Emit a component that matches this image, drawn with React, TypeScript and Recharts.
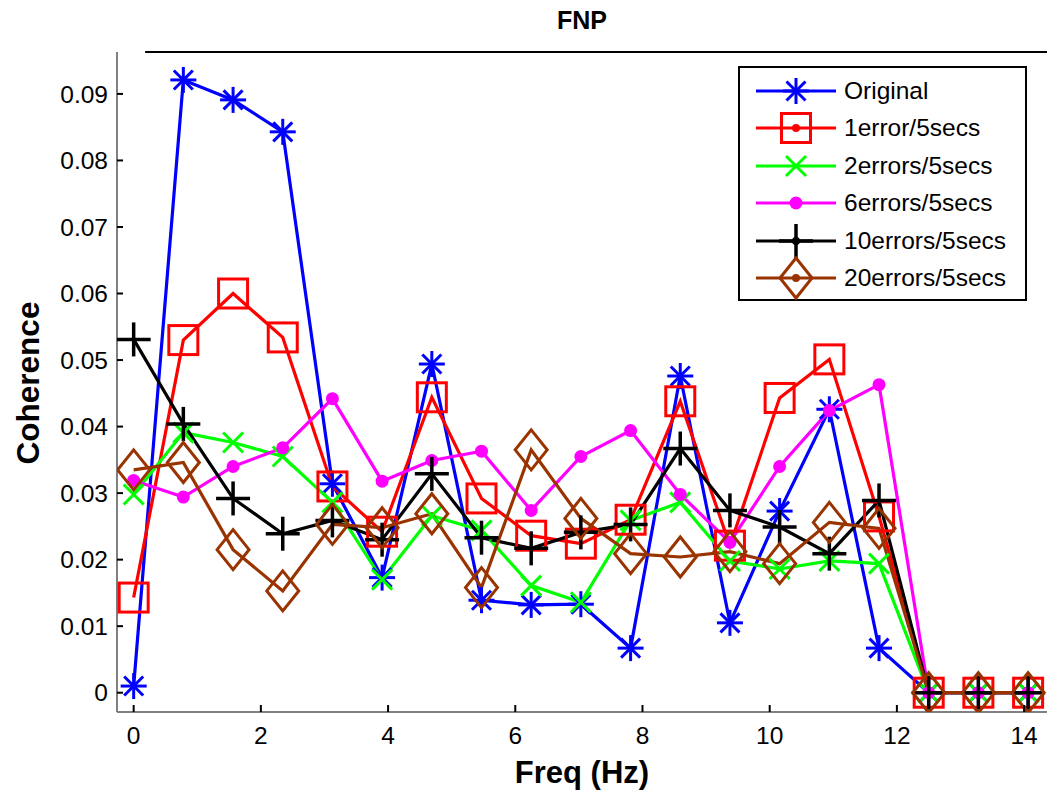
import React from 'react';
import { LineChart, Line, XAxis, YAxis, Legend, ReferenceLine } from 'recharts';

const FONT = '"Liberation Sans", Arial, Helvetica, sans-serif';

const freqs = [0, 0.781, 1.563, 2.344, 3.125, 3.906, 4.688, 5.469, 6.25, 7.031, 7.813, 8.594, 9.375, 10.156, 10.938, 11.719, 12.5, 13.281, 14.063];
const original = [0.001, 0.0921, 0.0891, 0.0843, 0.0314, 0.0173, 0.0494, 0.0139, 0.0132, 0.0133, 0.0067, 0.0476, 0.0105, 0.0273, 0.0426, 0.0067, 0, 0, 0];
const err1 = [0.0143, 0.053, 0.06, 0.0534, 0.031, 0.0242, 0.0444, 0.0292, 0.0236, 0.0224, 0.026, 0.0438, 0.0221, 0.0443, 0.0501, 0.0265, 0, 0, 0];
const err2 = [0.0298, 0.0391, 0.0376, 0.0355, 0.0286, 0.017, 0.0266, 0.0244, 0.0161, 0.0136, 0.0259, 0.0286, 0.0198, 0.0186, 0.0198, 0.0194, 0, 0, 0];
const err6 = [0.0319, 0.0294, 0.034, 0.0368, 0.0442, 0.0318, 0.0349, 0.0363, 0.0274, 0.0355, 0.0394, 0.0298, 0.0226, 0.034, 0.0424, 0.0463, 0, 0, 0];
const err10 = [0.0531, 0.0404, 0.0292, 0.0239, 0.0259, 0.023, 0.0329, 0.0233, 0.0217, 0.0241, 0.0253, 0.0367, 0.0274, 0.0249, 0.0209, 0.0289, 0, 0, 0];
const err20 = [0.0335, 0.0346, 0.0215, 0.0153, 0.0253, 0.0248, 0.0269, 0.0158, 0.0365, 0.0262, 0.0209, 0.0204, 0.0212, 0.0194, 0.0256, 0.0247, 0, 0, 0];

const seriesNames = ['Original', '1error/5secs', '2errors/5secs', '6errors/5secs', '10errors/5secs', '20errors/5secs'];
const seriesKeys = ['original', 'err1', 'err2', 'err6', 'err10', 'err20'];
const seriesValues = [original, err1, err2, err6, err10, err20];
const seriesColors = ['#0000ff', '#ff0000', '#00ff00', '#ff00ff', '#000000', '#993300'];
const seriesMarkers = ['star', 'square', 'x', 'dot', 'plus', 'diamond'];

const xTicks = [0, 2, 4, 6, 8, 10, 12, 14];
const yTicks = [0, 0.01, 0.02, 0.03, 0.04, 0.05, 0.06, 0.07, 0.08, 0.09];
const xDomain = [-0.262, 14.36];
const yDomain = [-0.0029, 0.0963];

const data = freqs.map((f, i) => {
  const row: any = { f };
  seriesKeys.forEach((k, j) => {
    row[k] = seriesValues[j][i];
  });
  return row;
});

function Marker({ type, cx, cy, color, legend }: any) {
  const sw = 3;
  if (type === 'star') {
    const a = 13, d = 9.5;
    return (
      <g stroke={color} strokeWidth={sw} fill="none">
        <line x1={cx - a} x2={cx + a} y1={cy} y2={cy} />
        <line x1={cx} x2={cx} y1={cy - a} y2={cy + a} />
        <line x1={cx - d} x2={cx + d} y1={cy - d} y2={cy + d} />
        <line x1={cx - d} x2={cx + d} y1={cy + d} y2={cy - d} />
      </g>
    );
  }
  if (type === 'square') {
    return (
      <g>
        <rect x={cx - 14.5} y={cy - 14.5} width={29} height={29} stroke={color} strokeWidth={sw} fill="none" />
        {legend ? <circle cx={cx} cy={cy} r={4} fill={color} /> : null}
      </g>
    );
  }
  if (type === 'x') {
    const d = 10;
    return (
      <g stroke={color} strokeWidth={sw}>
        <line x1={cx - d} x2={cx + d} y1={cy - d} y2={cy + d} />
        <line x1={cx - d} x2={cx + d} y1={cy + d} y2={cy - d} />
      </g>
    );
  }
  if (type === 'dot') {
    return <circle cx={cx} cy={cy} r={6.5} fill={color} />;
  }
  if (type === 'plus') {
    const a = 17;
    return (
      <g stroke={color} strokeWidth={3.5}>
        <line x1={cx - a} x2={cx + a} y1={cy} y2={cy} />
        <line x1={cx} x2={cx} y1={cy - a} y2={cy + a} />
        {legend ? <circle cx={cx} cy={cy} r={4} fill={color} stroke="none" /> : null}
      </g>
    );
  }
  const w = 16, h = 20;
  return (
    <g>
      <polygon
        points={`${cx},${cy - h} ${cx + w},${cy} ${cx},${cy + h} ${cx - w},${cy}`}
        stroke={color}
        strokeWidth={sw}
        fill="none"
      />
      {legend ? <circle cx={cx} cy={cy} r={4} fill={color} /> : null}
    </g>
  );
}

const YTick = (props: any) => {
  const { x, y, payload } = props;
  const label = String(Number(Number(payload.value).toFixed(2)));
  return (
    <g>
      <line x1={x + 9} x2={x + 15} y1={y} y2={y} stroke="#000" strokeWidth={2} />
      <text x={x} y={y} dy="0.355em" textAnchor="end" fontSize={24.5} fontFamily={FONT} fill="#000">
        {label}
      </text>
    </g>
  );
};

const XTick = (props: any) => {
  const { x, y, payload } = props;
  return (
    <g>
      <line x1={x} x2={x} y1={y - 15} y2={y - 22} stroke="#000" strokeWidth={2} />
      <text x={x} y={y} dy="0.71em" textAnchor="middle" fontSize={24.5} fontFamily={FONT} fill="#000">
        {String(payload.value)}
      </text>
    </g>
  );
};

const LegendBox = () => (
  <div
    style={{
      width: 285,
      height: 227,
      border: '2px solid #000',
      background: '#fff',
      boxSizing: 'content-box',
      paddingTop: 4,
    }}
  >
    {seriesNames.map((name, i) => (
      <div key={name} style={{ display: 'flex', alignItems: 'center', height: 37.5 }}>
        <svg width={104} height={44} style={{ flex: 'none', overflow: 'visible' }}>
          <line x1={16} x2={96} y1={22} y2={22} stroke={seriesColors[i]} strokeWidth={3} />
          <Marker type={seriesMarkers[i]} cx={56} cy={22} color={seriesColors[i]} legend />
        </svg>
        <span style={{ fontFamily: FONT, fontSize: 24.5, color: '#000', whiteSpace: 'nowrap', lineHeight: '24px' }}>
          {name}
        </span>
      </div>
    ))}
  </div>
);

export default function App() {
  return (
    <div style={{ position: 'absolute', left: 0, top: 0, width: 1049, height: 790, background: '#fff' }}>
      <LineChart
        width={1049}
        height={790}
        data={data}
        margin={{ top: 52, right: 2, bottom: 0, left: 0 }}
      >
        <XAxis
          dataKey="f"
          type="number"
          domain={xDomain}
          ticks={xTicks}
          allowDataOverflow
          height={78}
          tickSize={0}
          tickMargin={15}
          tickLine={false}
          axisLine={{ stroke: '#808080', strokeWidth: 2 }}
          tick={<XTick />}
          interval={0}
        />
        <YAxis
          type="number"
          domain={yDomain}
          ticks={yTicks}
          allowDataOverflow
          width={117}
          tickSize={0}
          tickMargin={9}
          tickLine={false}
          axisLine={{ stroke: '#808080', strokeWidth: 2 }}
          tick={<YTick />}
          interval={0}
        />
        <ReferenceLine
          segment={[
            { x: 0.18, y: yDomain[1] },
            { x: xDomain[1], y: yDomain[1] },
          ]}
          stroke="#000"
          strokeWidth={2}
          ifOverflow="visible"
        />
        {seriesKeys.map((k, j) => (
          <Line
            key={k}
            dataKey={k}
            name={seriesNames[j]}
            stroke={seriesColors[j]}
            strokeWidth={3.2}
            isAnimationActive={false}
            dot={(p: any) => (
              <Marker key={`${k}-${p.index}`} type={seriesMarkers[j]} cx={p.cx} cy={p.cy} color={seriesColors[j]} />
            )}
            activeDot={false}
          />
        ))}
        <Legend
          layout="vertical"
          align="center"
          verticalAlign="middle"
          content={<LegendBox />}
          wrapperStyle={{ position: 'absolute', left: 738, top: 66, width: 289, height: 235 }}
        />
      </LineChart>
      <svg
        width={1049}
        height={790}
        style={{ position: 'absolute', left: 0, top: 0, pointerEvents: 'none' }}
      >
        <text x={582} y={20} dy="0.355em" textAnchor="middle" fontSize={25} fontWeight="bold" fontFamily={FONT} fill="#000">
          FNP
        </text>
        <text x={582} y={772} dy="0.355em" textAnchor="middle" fontSize={31} fontWeight="bold" fontFamily={FONT} fill="#000">
          Freq (Hz)
        </text>
        <text
          transform="translate(28,383) rotate(-90)"
          x={0}
          y={0}
          dy="0.355em"
          textAnchor="middle"
          fontSize={31.5}
          fontWeight="bold"
          fontFamily={FONT}
          fill="#000"
        >
          Coherence
        </text>
      </svg>
    </div>
  );
}
